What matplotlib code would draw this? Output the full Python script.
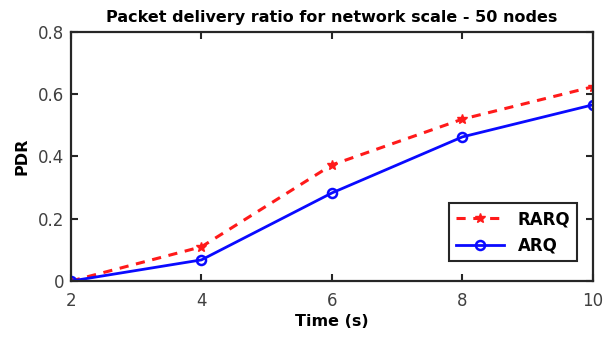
import matplotlib
matplotlib.use("Agg")
import matplotlib.pyplot as plt

# Datos
time_s = [2, 4, 6, 8, 10]
rarq = [0.0, 0.11, 0.373, 0.52, 0.624]
arq = [0.0, 0.068, 0.283, 0.463, 0.566]

x_ticks = [2, 4, 6, 8, 10]
y_ticks = [0, 0.2, 0.4, 0.6, 0.8]
y_labels = ["0", "0.2", "0.4", "0.6", "0.8"]

fig = plt.figure(figsize=(6.06, 3.47), dpi=100)
ax = fig.add_axes([0.117, 0.190, 0.8615, 0.718])

ax.plot(time_s, rarq, color="#ff1a1a", linestyle="--", linewidth=2.2,
        marker="*", markersize=7.5, label="RARQ", dashes=(3, 2.5))
ax.plot(time_s, arq, color="#0a0aff", linestyle="-", linewidth=2.0,
        marker="o", markersize=6.5, markerfacecolor="none",
        markeredgewidth=1.8, label="ARQ")

ax.set_xlim(2, 10)
ax.set_ylim(0, 0.8)
ax.set_xticks(x_ticks)
ax.set_yticks(y_ticks)
ax.set_yticklabels(y_labels)

ax.tick_params(direction="in", length=5, width=1.5, colors="#262626",
               labelsize=12, top=True, right=True, pad=5)
ax.tick_params(axis="x", pad=8)
for lbl in ax.get_xticklabels() + ax.get_yticklabels():
    lbl.set_color("#404040")
for spine in ax.spines.values():
    spine.set_linewidth(1.6)
    spine.set_color("#262626")

ax.set_title("Packet delivery ratio for network scale - 50 nodes",
             fontsize=11.5, fontweight="bold", pad=7)
ax.set_xlabel("Time (s)", fontsize=11.5, fontweight="bold", labelpad=3)
ax.set_ylabel("PDR", fontsize=11.5, fontweight="bold", labelpad=6)

leg = ax.legend(loc="lower right", fontsize=12, fancybox=False,
                edgecolor="#262626", framealpha=1, borderpad=0.4,
                handlelength=2.9, borderaxespad=0,
                bbox_to_anchor=(0.969, 0.08))
leg.get_frame().set_linewidth(1.5)
for t in leg.get_texts():
    t.set_fontweight("bold")

fig.savefig("out.png", dpi=100)
